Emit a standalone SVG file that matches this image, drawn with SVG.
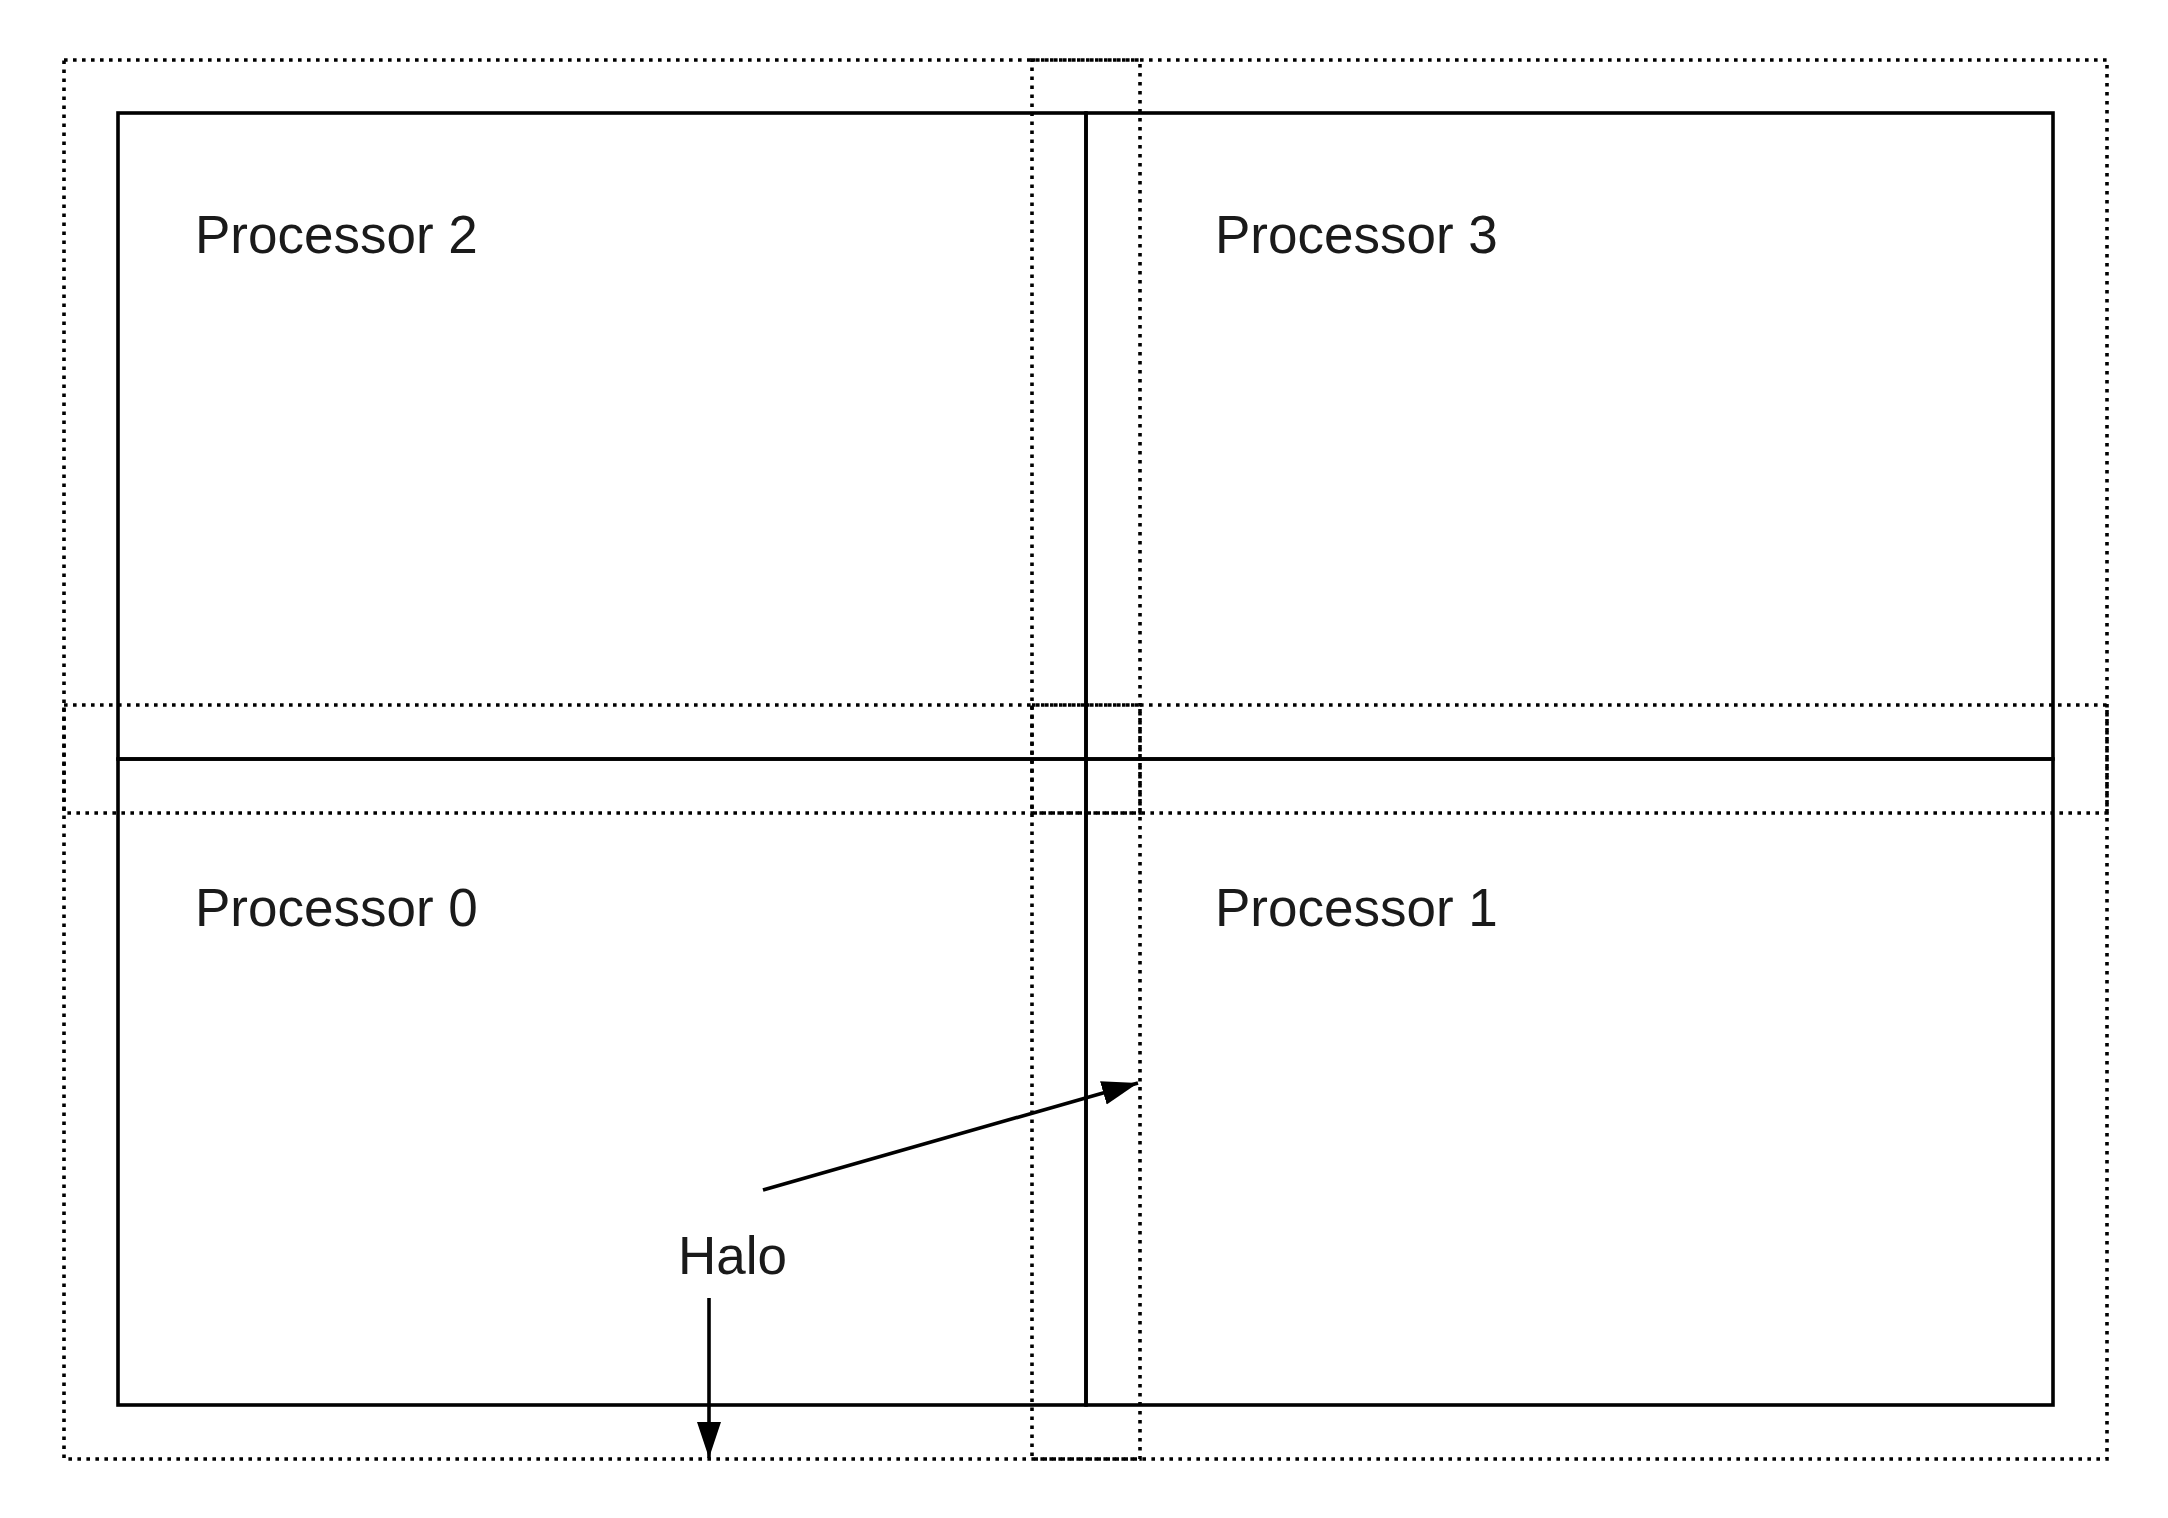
<svg xmlns="http://www.w3.org/2000/svg" width="2168" height="1518" viewBox="0 0 2168 1518">
<style>
.halo{fill:none;stroke:#000;stroke-width:3.6;stroke-dasharray:3.6 5.4}
.proc{fill:none;stroke:#000;stroke-width:3.6}
.lbl{font-family:"Liberation Sans",Arial,sans-serif;font-size:53px;fill:#1a1a1a}
.conn{stroke:#000;stroke-width:3.6;fill:none}
</style>
<defs>
<marker id="ah" markerUnits="userSpaceOnUse" markerWidth="38" markerHeight="26" refX="36" refY="12" orient="auto" viewBox="0 0 38 26">
<path d="M0,0 L36,12 L0,24 z" fill="#000"/>
</marker>
</defs>
<rect width="2168" height="1518" fill="#fff"/>
<g id="halos">
<rect class="halo" x="64" y="60" width="1076" height="753"/>
<rect class="halo" x="1032" y="60" width="1075" height="753"/>
<rect class="halo" x="64" y="705" width="1076" height="754"/>
<rect class="halo" x="1032" y="705" width="1075" height="754"/>
</g>
<g id="processor2">
<rect class="proc" x="118" y="113" width="968" height="646"/>
<text class="lbl" x="195" y="253">Processor 2</text>
</g>
<g id="processor3">
<rect class="proc" x="1086" y="113" width="967" height="646"/>
<text class="lbl" x="1215" y="253">Processor 3</text>
</g>
<g id="processor0">
<rect class="proc" x="118" y="759" width="968" height="646"/>
<text class="lbl" x="195" y="926">Processor 0</text>
</g>
<g id="processor1">
<rect class="proc" x="1086" y="759" width="967" height="646"/>
<text class="lbl" x="1215" y="926">Processor 1</text>
</g>
<g id="halo-label">
<text class="lbl" x="678" y="1274">Halo</text>
</g>
<g id="connectors">
<line class="conn" x1="763" y1="1190" x2="1138" y2="1083" marker-end="url(#ah)"/>
<line class="conn" x1="709" y1="1298" x2="709" y2="1458" marker-end="url(#ah)"/>
</g>
</svg>
